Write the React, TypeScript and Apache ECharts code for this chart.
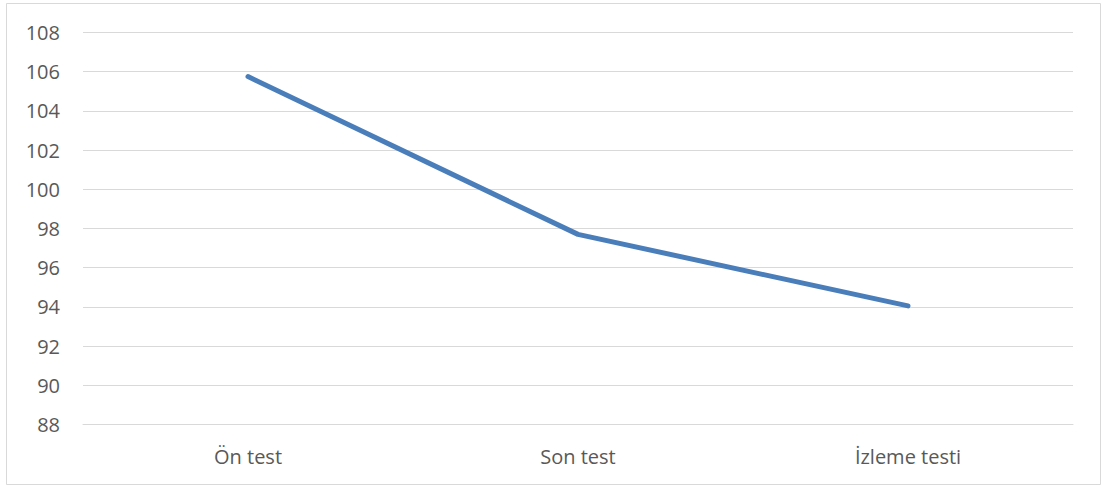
import React, { useEffect, useRef } from "react";
import * as echarts from "echarts";

const categories = ["Ön test", "Son test", "İzleme testi"];
const values = [105.75, 97.7, 94.05];
const yMin = 88;
const yMax = 108;
const yStep = 2;

export default function App() {
  const ref = useRef<HTMLDivElement>(null);
  useEffect(() => {
    const chart = echarts.init(ref.current!, undefined, { renderer: "svg" });
    const font = "'Open Sans', sans-serif";
    chart.setOption({
      animation: false,
      backgroundColor: "#ffffff",
      grid: { left: 83, right: 30, top: 32.5, bottom: 61.5 },
      graphic: [
        {
          type: "rect",
          shape: { x: 6.5, y: 3.5, width: 1094, height: 481 },
          style: { fill: "none", stroke: "#d9d9d9", lineWidth: 1 },
          silent: true,
        },
      ],
      xAxis: {
        type: "category",
        data: categories,
        boundaryGap: true,
        axisLine: { show: true, lineStyle: { color: "#d9d9d9", width: 1 } },
        axisTick: { show: false },
        axisLabel: { color: "#595959", fontFamily: font, fontSize: 20, margin: 22 },
        splitLine: { show: false },
      },
      yAxis: {
        type: "value",
        min: yMin,
        max: yMax,
        interval: yStep,
        axisLine: { show: false },
        axisTick: { show: false },
        axisLabel: { color: "#595959", fontFamily: font, fontSize: 20, margin: 23 },
        splitLine: { lineStyle: { color: "#d9d9d9", width: 1 } },
      },
      series: [
        {
          type: "line",
          data: values,
          symbol: "none",
          lineStyle: { color: "#4a7ebb", width: 5, cap: "round", join: "round" },
        },
      ],
    });
    return () => chart.dispose();
  }, []);
  return (
    <div
      ref={ref}
      style={{ position: "fixed", left: 0, top: 0, width: 1103, height: 486 }}
    />
  );
}
